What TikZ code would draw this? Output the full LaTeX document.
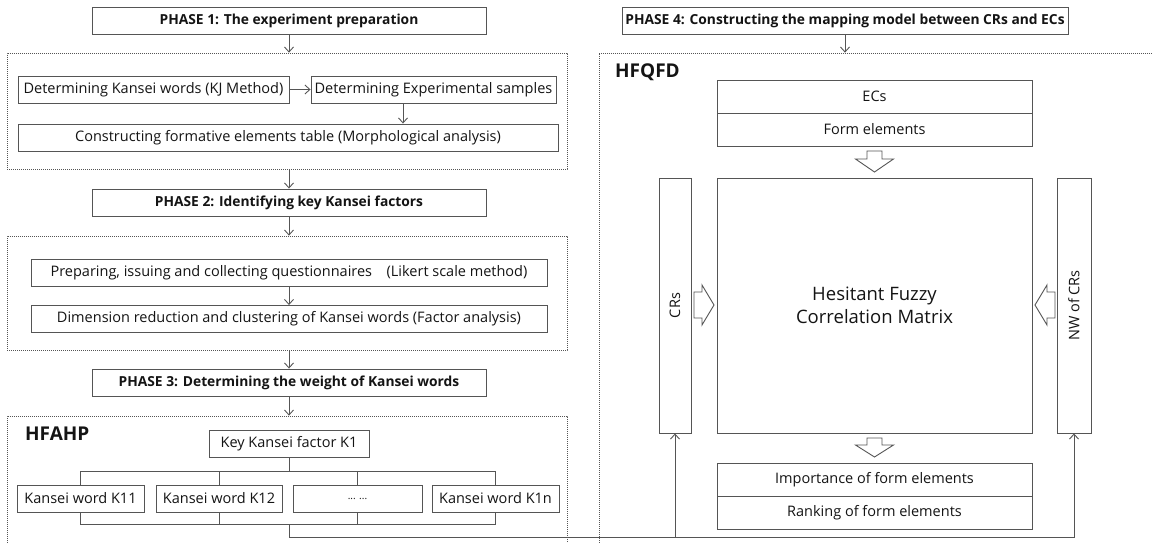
\documentclass[tikz,border=0pt]{standalone}
\usepackage{fontspec}
\setmainfont{Open Sans}
\usetikzlibrary{arrows.meta,calc}
\definecolor{linegray}{HTML}{555555}
\definecolor{txt}{HTML}{141414}
\tikzset{
  box/.style={draw=linegray, line width=0.9pt, fill=white, inner sep=0pt, text=txt,
              font=\fontsize{14.5}{17}\selectfont, anchor=center},
  lbl/.style={inner sep=0pt, text=txt, font=\fontsize{14.5}{17}\selectfont, anchor=center},
  phasebox/.style={box, font=\fontsize{13.8}{16}\selectfont\bfseries, minimum width=394pt, minimum height=27pt},
  dotbox/.style={draw=linegray, line width=0.7pt, dash pattern=on 0.9pt off 1.1pt, inner sep=0pt},
  conn/.style={draw=linegray, line width=0.9pt},
  arr/.style={conn, -{Straight Barb[length=5pt,width=9pt,line width=0.9pt]}},
  blk/.style={draw=linegray, line width=0.9pt, fill=white, line join=miter},
  big/.style={font=\fontsize{19}{21}\selectfont\bfseries, text=txt, inner sep=0pt}
}
\begin{document}
\begin{tikzpicture}[x=1pt,y=-1pt]
\useasboundingbox[fill=white] (0,0) rectangle (1152,543);

% ---------- left column ----------
\node[phasebox] (p1) at (289,20.5) {PHASE 1: The experiment preparation};
\node[dotbox, minimum width=560pt, minimum height=116pt] (g1) at (287,111) {};
\node[box, minimum width=271pt, minimum height=27pt] (kj) at (153.5,89.5) {Determining Kansei words (KJ Method)};
\node[box, minimum width=245pt, minimum height=27pt] (es) at (433.5,89.5) {Determining Experimental samples};
\node[box, minimum width=540pt, minimum height=27pt] (cf) at (288,137.5) {Constructing formative elements table (Morphological analysis)};

\node[phasebox] (p2) at (289,202.5) {PHASE 2: Identifying key Kansei factors};
\node[dotbox, minimum width=560pt, minimum height=114pt] (g2) at (287,293) {};
\node[box, minimum width=516pt, minimum height=27pt] (pq) at (289,273) {Preparing, issuing and collecting questionnaires\quad(Likert scale method)};
\node[box, minimum width=516pt, minimum height=27pt] (dr) at (289,319) {Dimension reduction and clustering of Kansei words (Factor analysis)};

\node[phasebox] (p3) at (289,382.5) {PHASE 3: Determining the weight of Kansei words};
\node[dotbox, minimum width=560pt, minimum height=144pt] (g3) at (287,488) {};
\node[big, anchor=west] (hfahp) at (25,434) {HFAHP};
\node[box, minimum width=160pt, minimum height=27pt] (k1) at (289,443.5) {Key Kansei factor K1};
\node[box, minimum width=127pt, minimum height=27pt] (k11) at (80.5,498.5) {Kansei word K11};
\node[box, minimum width=126pt, minimum height=27pt] (k12) at (219,498.5) {Kansei word K12};
\node[box, minimum width=129pt, minimum height=27pt] (kd) at (357.5,498.5) {\fontsize{10}{12}\selectfont ... ...};
\node[box, minimum width=127pt, minimum height=27pt] (k1n) at (495.5,498.5) {Kansei word K1n};

% ---------- right column ----------
\node[phasebox, minimum width=446pt] (p4) at (845,20.5) {PHASE 4: Constructing the mapping model between CRs and ECs};
\node[dotbox, minimum width=571pt, minimum height=507pt] (g4) at (884.5,306.5) {};
\node[big, anchor=west] (hfqfd) at (615,72) {HFQFD};
\node[box, minimum width=315pt, minimum height=33pt] (ec) at (874.5,96.5) {ECs};
\node[box, minimum width=315pt, minimum height=33pt] (fe) at (874.5,129.5) {Form elements};
\node[box, minimum width=315pt, minimum height=255pt, font=\fontsize{18.5}{23}\selectfont, align=center] (mx) at (874.5,305.5) {Hesitant Fuzzy\\Correlation Matrix};
\node[box, minimum width=32pt, minimum height=255pt] (cr) at (675,305.5) {};
\node[lbl, rotate=90] (crl) at (cr.center) {CRs};
\node[box, minimum width=34pt, minimum height=255pt] (nw) at (1074,305.5) {};
\node[lbl, rotate=90] (nwl) at (nw.center) {NW of CRs};
\node[box, minimum width=315pt, minimum height=33pt] (im) at (874.5,479.5) {Importance of form elements};
\node[box, minimum width=315pt, minimum height=33pt] (rk) at (874.5,512.5) {Ranking of form elements};

% ---------- connectors, left ----------
\draw[arr] (p1.south) -- (p1.south |- g1.north);
\draw[arr] (kj.east) -- (es.west);
\coordinate (esx) at (403,0);
\draw[arr] (es.south -| esx) -- (cf.north -| esx);
\draw[arr] (p2.north |- g1.south) -- (p2.north);
\draw[arr] (p2.south) -- (p2.south |- g2.north);
\draw[arr] (pq.south) -- (dr.north);
\draw[arr] (p3.north |- g2.south) -- (p3.north);
\draw[arr] (p3.south) -- (p3.south |- g3.north);

\coordinate (topY) at (0,471);
\coordinate (botY) at (0,524);
\draw[conn] (k11.north) -- (k11.north |- topY) -- (k1n.north |- topY) -- (k1n.north);
\draw[conn] (k1.south) -- (k1.south |- topY);
\draw[conn] (k12.north) -- (k12.north |- topY);
\draw[conn] (kd.north) -- (kd.north |- topY);
\draw[conn] (k11.south) -- (k11.south |- botY) -- (k1n.south |- botY) -- (k1n.south);
\draw[conn] (k12.south) -- (k12.south |- botY);
\draw[conn] (kd.south) -- (kd.south |- botY);
\coordinate (bj) at (k1.south |- botY);
\coordinate (fb) at (289,537);

% ---------- connectors, right ----------
\draw[arr] (p4.south) -- (p4.south |- g4.north);
\draw[conn] (bj) -- (fb);
\draw[arr] (fb) -| (nw.south);
\draw[arr] (fb -| cr.south) -- (cr.south);

% block arrows
\draw[blk] (867,151) -- (882,151) -- (882,159) -- (893.5,159) -- (874.5,172) -- (855.5,159) -- (867,159) -- cycle;
\draw[blk] (867,438) -- (882,438) -- (882,445) -- (893.5,445) -- (874.5,457) -- (855.5,445) -- (867,445) -- cycle;
\draw[blk] (694,292) -- (702,292) -- (702,285) -- (714,305) -- (702,325) -- (702,318) -- (694,318) -- cycle;
\draw[blk] (1055,292) -- (1047,292) -- (1047,285) -- (1035,305) -- (1047,325) -- (1047,318) -- (1055,318) -- cycle;
\end{tikzpicture}
\end{document}
